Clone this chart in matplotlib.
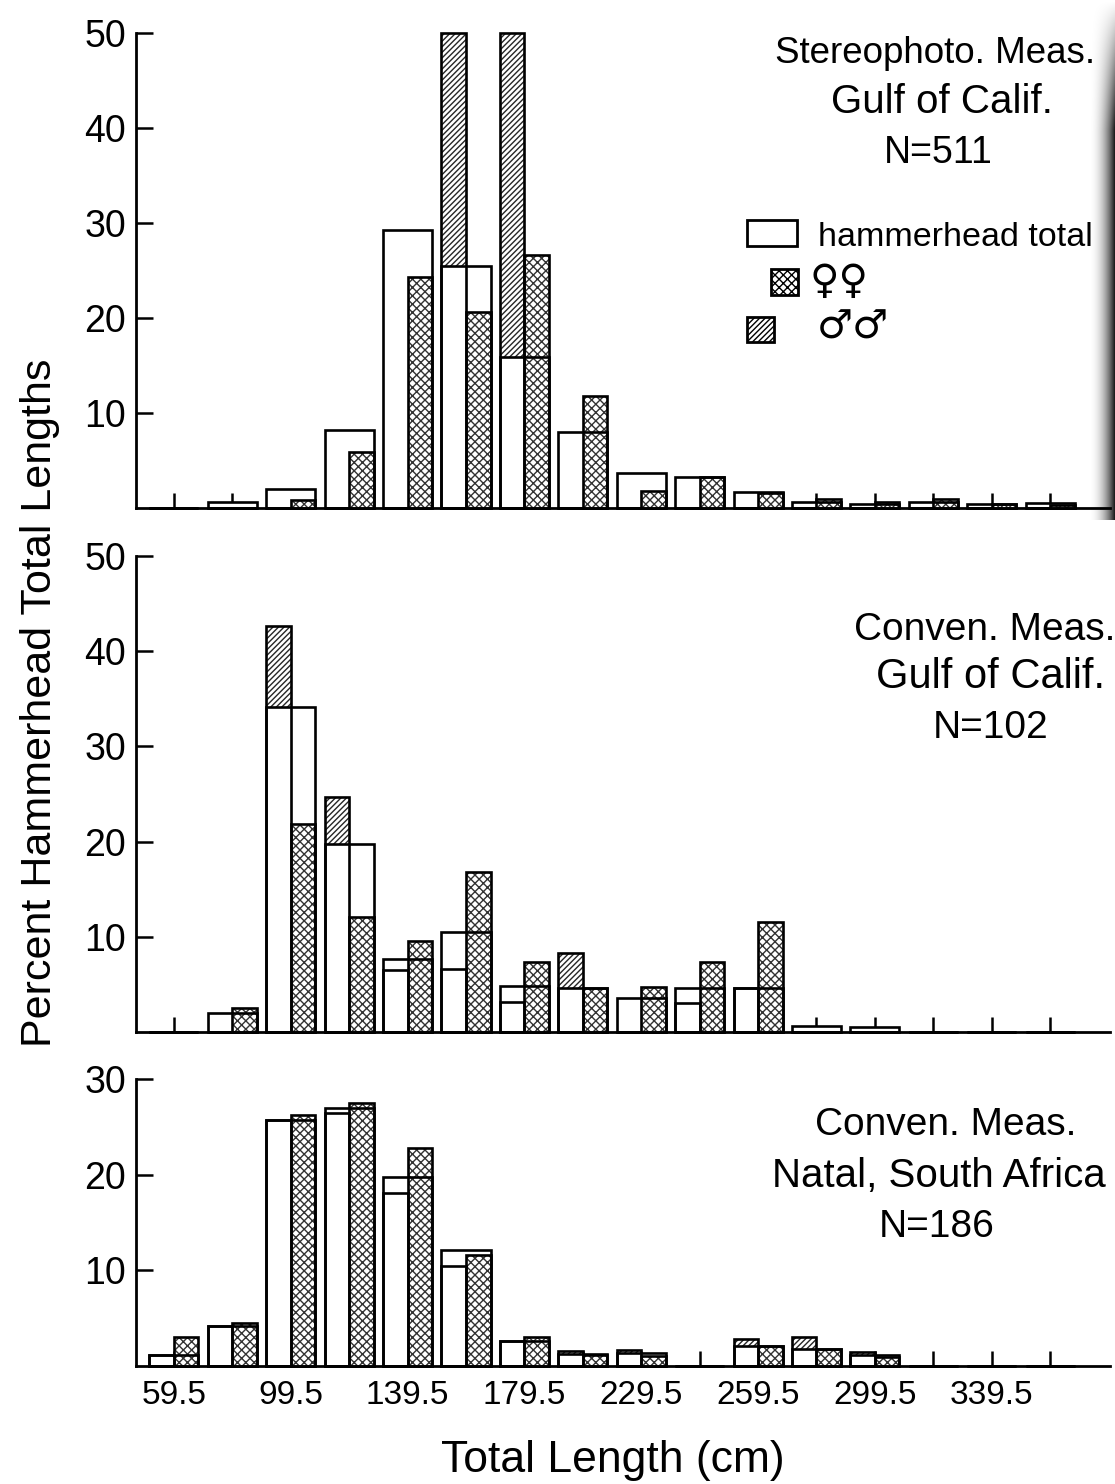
import numpy as np
import matplotlib.pyplot as plt
from matplotlib.patches import Rectangle

# length classes (class midpoints, cm) and the printed tick labels
length_mid = [59.5, 79.5, 99.5, 119.5, 139.5, 159.5, 179.5, 199.5,
              219.5, 239.5, 259.5, 279.5, 299.5, 319.5, 339.5, 359.5]
tick_text = ['59.5', '99.5', '139.5', '179.5', '229.5', '259.5', '299.5', '339.5']

# Stereophoto measurements, Gulf of California (N=511)
stereo_total = [0, 0.6, 2.0, 8.2, 29.3, 25.5, 15.9, 8.0, 3.7, 3.3, 1.7, 0.6, 0.4, 0.6, 0.4, 0.5]
stereo_female = [0, 0, 0.8, 5.9, 24.3, 20.6, 26.6, 11.8, 1.8, 3.3, 1.6, 1.0, 0.6, 0.9, 0.4, 0.3]
stereo_male = [0, 0, 0, 0, 0, 50, 50, 0, 0, 0, 0, 0, 0, 0, 0, 0]

# conventional measurements, Gulf of California (N=102)
gulf_total = [0, 2.0, 34.1, 19.7, 7.7, 10.5, 4.8, 4.6, 3.6, 4.6, 4.6, 0.6, 0.5, 0, 0, 0]
gulf_female = [0, 2.5, 21.9, 12.1, 9.6, 16.8, 7.4, 4.6, 4.7, 7.4, 11.6, 0, 0, 0, 0, 0]
gulf_male = [0, 0, 42.6, 24.7, 6.5, 6.6, 3.2, 8.3, 0, 3.0, 4.6, 0, 0, 0, 0, 0]

# conventional measurements, Natal, South Africa (N=186)
natal_total = [1.1, 4.2, 25.7, 27.0, 19.8, 12.1, 2.6, 1.3, 1.4, 0, 2.1, 1.8, 1.2, 0, 0, 0]
natal_female = [3.0, 4.5, 26.2, 27.5, 22.8, 11.6, 3.0, 1.1, 1.0, 0, 2.1, 1.8, 0.9, 0, 0, 0]
natal_male = [1.1, 4.2, 25.7, 26.4, 18.1, 10.5, 2.6, 1.6, 1.7, 0, 2.8, 3.0, 1.5, 0, 0, 0]

REG = ['Liberation Sans', 'DejaVu Sans']
SYM = ['DejaVu Sans']

plt.rcParams['font.family'] = REG
plt.rcParams['hatch.linewidth'] = 1.0

W, H = 1115, 1484
fig = plt.figure(figsize=(W / 100, H / 100), dpi=100)


def fx(px):
    return px / W


def fy(py):
    return 1 - py / H


HALF = 8.4
FEMALE_HATCH = 'xxxx'
MALE_HATCH = '//////'


def draw_panel(ax, total, male, female):
    x = np.array(length_mid)
    # male fill first, then the white total block hides it below the total line
    ax.bar(x - HALF, male, width=HALF, align='edge', color='white',
           edgecolor='0.15', hatch=MALE_HATCH, linewidth=0, zorder=1, clip_on=False)
    ax.bar(x - HALF, total, width=2 * HALF, align='edge', color='white',
           linewidth=0, zorder=2, clip_on=False)
    ax.bar(x, female, width=HALF, align='edge', color='white',
           edgecolor='0.2', hatch=FEMALE_HATCH, linewidth=0, zorder=3, clip_on=False)
    for vals, left, w in [(male, x - HALF, HALF), (female, x, HALF),
                          (total, x - HALF, 2 * HALF)]:
        ax.bar(left, vals, width=w, align='edge', fill=False, edgecolor='black',
               linewidth=1.9, zorder=4, clip_on=False)


def style_axes(ax, ymax, yticks, show_x):
    ax.set_xlim(46.5, 380)
    ax.set_ylim(0, ymax)
    for side in ['top', 'right']:
        ax.spines[side].set_visible(False)
    for side in ['left', 'bottom']:
        ax.spines[side].set_linewidth(2)
    ax.set_yticks(yticks)
    ax.set_yticklabels([str(t) for t in yticks])
    ax.set_xticks(length_mid)
    if show_x:
        labels = [tick_text[i // 2] if i % 2 == 0 else '' for i in range(len(length_mid))]
    else:
        labels = [''] * len(length_mid)
    ax.set_xticklabels(labels)
    ax.tick_params(axis='y', direction='in', length=12, width=1.8, pad=7, labelsize=27)
    ax.tick_params(axis='x', direction='in', length=11, width=1.8, pad=10, labelsize=24)


left, width = fx(136), (1110 - 136) / W
ax1 = fig.add_axes([left, fy(508), width, (508 - 33) / H])
ax2 = fig.add_axes([left, fy(1032), width, (1032 - 556) / H])
ax3 = fig.add_axes([left, fy(1366), width, (1366 - 1079) / H])

draw_panel(ax1, stereo_total, stereo_male, stereo_female)
draw_panel(ax2, gulf_total, gulf_male, gulf_female)
draw_panel(ax3, natal_total, natal_male, natal_female)
style_axes(ax1, 50, [10, 20, 30, 40, 50], False)
style_axes(ax2, 50, [10, 20, 30, 40, 50], False)
style_axes(ax3, 30, [10, 20, 30], True)

# panel captions: text, centre x, baseline y (pixels), size
captions = [
    ('Stereophoto. Meas.', 935, 63, 26.5), ('Gulf of Calif.', 942, 113, 29), ('N=511', 938, 163, 27),
    ('Conven. Meas.', 985, 640, 28), ('Gulf of Calif.', 990, 688, 30), ('N=102', 991, 738, 28),
    ('Conven. Meas.', 946, 1135, 28), ('Natal, South Africa', 939, 1187, 29), ('N=186', 937, 1237, 28),
]
for txt, px, py, size in captions:
    fig.text(fx(px), fy(py), txt, ha='center', va='baseline', fontsize=size)

# legend, drawn by hand in the upper panel
fig.add_artist(Rectangle((fx(747), fy(246)), 50 / W, 26 / H, transform=fig.transFigure,
                         facecolor='white', edgecolor='black', linewidth=2))
fig.add_artist(Rectangle((fx(771), fy(295)), 27 / W, 26 / H, transform=fig.transFigure,
                         facecolor='white', edgecolor='black', hatch=FEMALE_HATCH, linewidth=2))
fig.add_artist(Rectangle((fx(747), fy(342)), 27 / W, 25 / H, transform=fig.transFigure,
                         facecolor='white', edgecolor='black', hatch=MALE_HATCH, linewidth=2))
fig.text(fx(818), fy(246), 'hammerhead total', ha='left', va='baseline', fontsize=24.5)
fig.text(fx(810), fy(293), '\u2640\u2640', ha='left', va='baseline', fontsize=29, family=SYM)
fig.text(fx(817), fy(339), '\u2642\u2642', ha='left', va='baseline', fontsize=29, family=SYM)

# axis titles
fig.text(fx(613), fy(1472), 'Total Length (cm)', ha='center', va='baseline', fontsize=32)
fig.text(fx(40), fy(703), 'Percent Hammerhead Total Lengths', rotation=90,
         ha='center', va='center', fontsize=31)

# binding shadow along the upper right edge of the page
sh_ax = fig.add_axes([fx(1088), fy(520), 27 / W, 520 / H])
gx = np.linspace(0, 1, 40)[None, :]
gy = np.linspace(0, 1, 260)[:, None]
alpha = (gx ** 2.2) * 0.9 * np.clip((1 - gy) / 0.25, 0, 1)
rgba = np.zeros((260, 40, 4))
rgba[..., 3] = alpha
sh_ax.imshow(rgba, aspect='auto', interpolation='bilinear', origin='lower')
sh_ax.axis('off')

fig.savefig('out.png', dpi=100)
